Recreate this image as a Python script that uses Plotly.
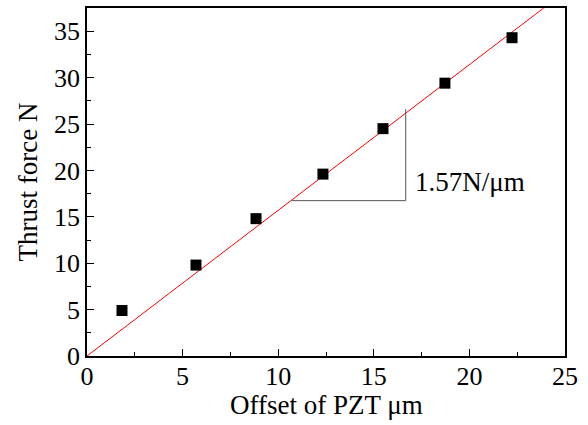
import plotly.graph_objects as go

# Measured thrust force versus PZT offset
offset_um = [1.83, 5.70, 8.84, 12.34, 15.48, 18.72, 22.23]
thrust_n = [4.9, 9.8, 14.8, 19.6, 24.5, 29.4, 34.3]

# Linear fit through the origin
slope = 1.57
fit_x = [0, 37.5 / slope]
fit_y = [0, 37.5]

# Slope triangle annotation
tri_x = [10.72, 16.67, 16.67]
tri_y = [16.74, 16.74, 26.6]
slope_label = "1.57N/\u03bcm"
x_title = "Offset of PZT \u03bcm"
y_title = "Thrust force N"

font_family = "Liberation Serif, Times New Roman, serif"

fig = go.Figure()
fig.add_trace(go.Scatter(
    x=fit_x, y=fit_y, mode="lines",
    line=dict(color="#ff0000", width=1), showlegend=False, hoverinfo="skip",
))
fig.add_trace(go.Scatter(
    x=tri_x, y=tri_y, mode="lines",
    line=dict(color="#555555", width=1), showlegend=False, hoverinfo="skip",
))
fig.add_trace(go.Scatter(
    x=offset_um, y=thrust_n, mode="markers",
    marker=dict(symbol="square", size=11, color="black"), showlegend=False,
))

fig.add_annotation(
    x=17.05, y=18.8, text=slope_label, showarrow=False,
    xanchor="left", yanchor="middle",
    font=dict(family=font_family, size=27, color="black"),
)
# x-axis title placed just under the tick labels
fig.add_annotation(
    x=0.5, y=-0.142, xref="paper", yref="paper", text=x_title, showarrow=False,
    xanchor="center", yanchor="middle",
    font=dict(family=font_family, size=27, color="black"),
)

axis_common = dict(
    showline=True, linecolor="black", linewidth=1.5, mirror=True,
    ticks="inside", ticklen=7, tickwidth=1.2, tickcolor="black",
    showgrid=False, zeroline=False,
    tickfont=dict(family=font_family, size=26, color="black"),
    minor=dict(ticks="inside", ticklen=4, tickwidth=1.2, tickcolor="black", dtick=2.5),
)

fig.update_xaxes(range=[0, 25], dtick=5, tick0=0, ticklabelstandoff=-4, **axis_common)
fig.update_yaxes(
    range=[0, 37.5], dtick=5, tick0=0,
    title=dict(text=y_title, font=dict(family=font_family, size=27, color="black"), standoff=9),
    **axis_common,
)

fig.update_layout(
    width=588, height=425,
    margin=dict(l=87, r=23, t=6, b=69),
    plot_bgcolor="white", paper_bgcolor="white",
)

fig.write_html("out.html")
